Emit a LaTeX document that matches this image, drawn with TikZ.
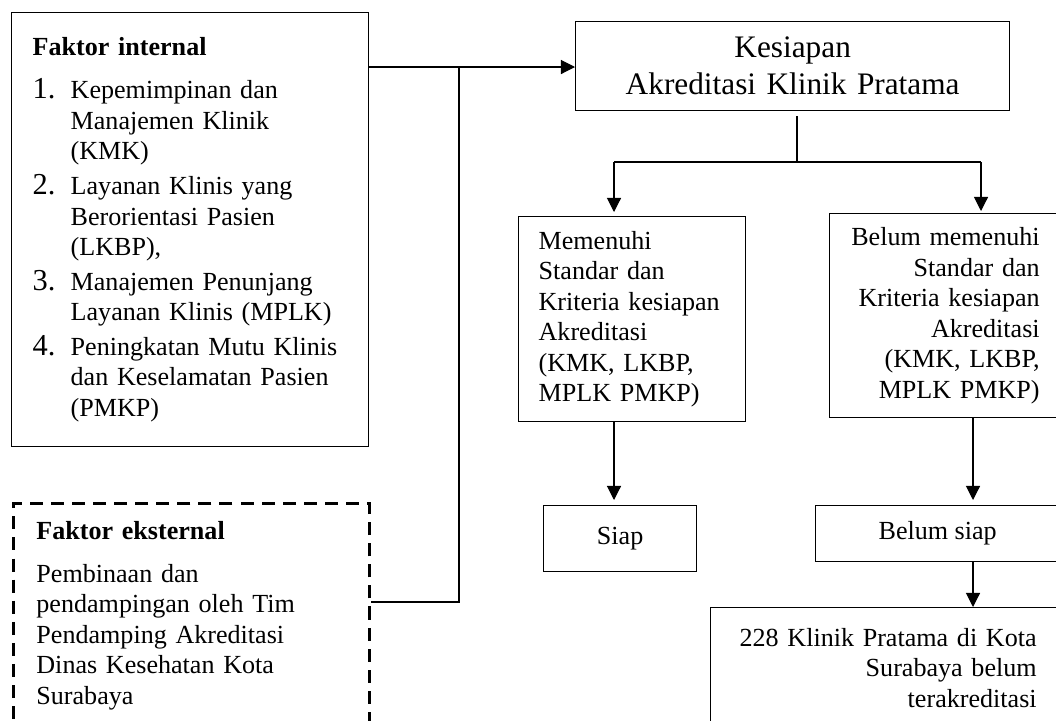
\documentclass[tikz,border=0pt]{standalone}
\usepackage{fontspec}
\setmainfont{Liberation Serif}
\usetikzlibrary{arrows.meta}
\newlength\pxl
\setlength\pxl{0.46pt}
\tikzset{
  box/.style={draw, rectangle, line width=0.6pt, anchor=north west, inner sep=0pt,
    font=\fontsize{12}{14}\selectfont},
  dashbox/.style={box, line width=1.3pt, dash pattern=on 6pt off 3.7pt},
  conn/.style={line width=0.5pt},
}
\newcommand{\num}[1]{\makebox[17.5pt][l]{\fontsize{14}{14}\selectfont #1}}
\newcommand{\ind}{\hspace*{17.5pt}}

\begin{document}
\begin{tikzpicture}[x=0.46pt, y=-0.46pt, >={Triangle[length=6.5pt, width=6.5pt]}]
    \useasboundingbox (0,0) rectangle (1056,720);

    % left side: factors
    \node[box, minimum width=357*\pxl, minimum height=434*\pxl, text width=315*\pxl, align=left]
        (internal) at (11,12) {%
        \textbf{Faktor internal}\\[6pt]
        \num{1.}Kepemimpinan dan\\
        \ind Manajemen Klinik\\
        \ind (KMK)\\[2pt]
        \num{2.}Layanan Klinis yang\\
        \ind Berorientasi Pasien\\
        \ind (LKBP),\\[2pt]
        \num{3.}Manajemen Penunjang\\
        \ind Layanan Klinis (MPLK)\\[2pt]
        \num{4.}Peningkatan Mutu Klinis\\
        \ind dan Keselamatan Pasien\\
        \ind (PMKP)};
    \node[dashbox, minimum width=356*\pxl, minimum height=224*\pxl, text width=310*\pxl, align=left]
        (external) at (12,502) {%
        \textbf{Faktor eksternal}\\[6pt]
        Pembinaan dan\\
        pendampingan oleh Tim\\
        Pendamping Akreditasi\\
        Dinas Kesehatan Kota\\
        Surabaya};

    % right side: readiness
    \node[box, minimum width=434*\pxl, minimum height=89*\pxl, text width=420*\pxl, align=center,
        font=\fontsize{14.4}{17}\selectfont]
        (main) at (575,21) {Kesiapan\\Akreditasi Klinik Pratama};
    \node[box, minimum width=227*\pxl, minimum height=205*\pxl, text width=187*\pxl, align=left]
        (meet) at (518,216) {Memenuhi\\Standar dan\\Kriteria kesiapan\\Akreditasi\\(KMK, LKBP,\\MPLK PMKP)};
    \node[box, minimum width=230*\pxl, minimum height=204*\pxl, text width=190*\pxl, align=right]
        (notmeet) at (829,213) {Belum memenuhi\\Standar dan\\Kriteria kesiapan\\Akreditasi\\(KMK, LKBP,\\MPLK PMKP)};
    \node[box, minimum width=153*\pxl, minimum height=66*\pxl, align=center]
        (ready) at (543,505) {Siap};
    \node[box, minimum width=244*\pxl, minimum height=56*\pxl, align=center]
        (notready) at (815,505) {Belum siap};
    \node[box, minimum width=352*\pxl, minimum height=120*\pxl, text width=300*\pxl, align=right]
        (result) at (710,607) {228 Klinik Pratama di Kota\\Surabaya belum\\terakreditasi};

    \coordinate (jn)    at (459,67);
    \coordinate (jx)    at (459,602);
    \coordinate (split) at (797,162);
    \coordinate (lft)   at (614,162);
    \coordinate (rgt)   at (981,162);
    \coordinate (rdown) at (973,0);

    \draw[conn, ->] (internal.east |- jn) -- (main.west |- jn);
    \draw[conn] (jn) -- (jx) -- (external.east |- jx);

    \draw[conn, shorten <=5\pxl] (split |- main.south) -- (split);
    \draw[conn] (lft) -- (rgt);
    \draw[conn, ->, shorten >=4\pxl] (lft) -- (lft |- meet.north);
    \draw[conn, ->, shorten >=2\pxl] (rgt) -- (rgt |- notmeet.north);
    \draw[conn, ->, shorten >=5\pxl] (lft |- meet.south) -- (lft |- ready.north);
    \draw[conn, ->, shorten >=5\pxl] (rdown |- notmeet.south) -- (rdown |- notready.north);
    \draw[conn, ->] (rdown |- notready.south) -- (rdown |- result.north);
\end{tikzpicture}
\end{document}
